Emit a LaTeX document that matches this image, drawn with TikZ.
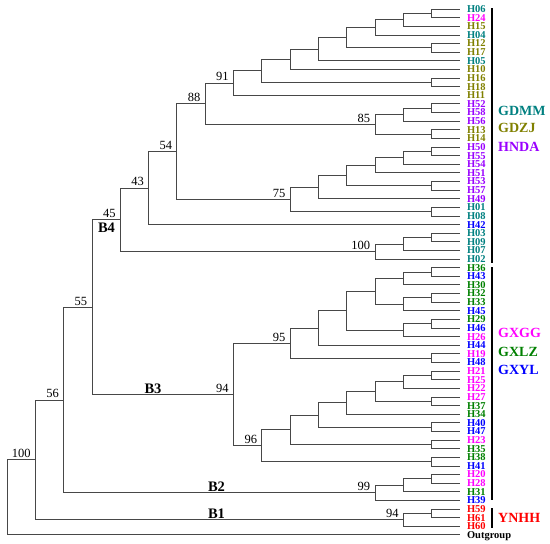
\documentclass[tikz,border=0pt]{standalone}
\usepackage{fontspec}
\setmainfont{Liberation Serif}
\definecolor{cteal}{RGB}{0,128,128}
\definecolor{colive}{RGB}{128,128,0}
\definecolor{cmag}{RGB}{255,0,255}
\definecolor{cviol}{RGB}{153,0,255}
\definecolor{cblue}{RGB}{0,0,255}
\definecolor{cgreen}{RGB}{0,128,0}
\definecolor{cred}{RGB}{255,0,0}
\definecolor{cblack}{RGB}{0,0,0}
\newcommand\kids[3]{\draw[br] (#1) |- (#2) (#1) |- (#3);}
\begin{document}
\begin{tikzpicture}[x=1pt,y=-1pt,
  br/.style={draw=black!72,line width=0.7pt},
  leaf/.style={inner sep=0pt,anchor=base west,font=\fontsize{10.5}{10.5}\selectfont\bfseries},
  bs/.style={inner sep=0pt,anchor=base east,xshift=-4.5pt,yshift=2pt,font=\fontsize{12.5}{12.5}\selectfont},
  bl/.style={inner sep=0pt,font=\fontsize{14.5}{14.5}\selectfont\bfseries},
  grp/.style={inner sep=0pt,anchor=base west,font=\fontsize{14}{14}\selectfont\bfseries},
  bar/.style={draw=black,line width=1.5pt}]
\useasboundingbox (0,0) rectangle (550,544);
% leaves
\foreach \n/\c [count=\i] in {H06/cteal,H24/cmag,H15/colive,H04/cteal,H12/colive,H17/colive,H05/cteal,H10/colive,H16/colive,H18/colive,H11/colive,H52/cviol,H58/cviol,H56/cviol,H13/colive,H14/colive,H50/cviol,H55/cviol,H54/cviol,H51/cviol,H53/cviol,H57/cviol,H49/cviol,H01/cteal,H08/cteal,H42/cblue,H03/cteal,H09/cteal,H07/cteal,H02/cteal,H36/cgreen,H43/cblue,H30/cgreen,H32/cgreen,H33/cgreen,H45/cblue,H29/cgreen,H46/cblue,H26/cmag,H44/cblue,H19/cmag,H48/cblue,H21/cmag,H25/cmag,H22/cmag,H27/cmag,H37/cgreen,H34/cgreen,H40/cblue,H47/cblue,H23/cmag,H35/cgreen,H38/cgreen,H41/cblue,H20/cmag,H28/cmag,H31/cgreen,H39/cblue,H59/cred,H61/cred,H60/cred,Outgroup/cblack}{
  \coordinate (L\i) at (459.8,{9+(\i-1)*8.62});
  \node[leaf,text=\c] (T\i) at ([xshift=7pt,yshift=-3.5pt]L\i) {\n};
}
% internal nodes
\coordinate (a1) at (431.5,13.31);
\coordinate (a2) at (403.2,19.775);
\coordinate (a3) at (374.9,27.32);
\coordinate (a4) at (431.5,47.79);
\coordinate (a5) at (346.6,37.55);
\coordinate (a6) at (318.3,49.14);
\coordinate (a7) at (290,59.24);
\coordinate (a8) at (431.5,82.27);
\coordinate (a9) at (261.7,70.75);
\coordinate (a10) at (233.4,82.98);
\coordinate (b1) at (431.5,108.13);
\coordinate (b2) at (403.2,114.60);
\coordinate (b3) at (431.5,133.99);
\coordinate (b4) at (374.9,124.29);
\coordinate (a11) at (205.1,103.63);
\coordinate (c1) at (431.5,151.23);
\coordinate (c2) at (403.2,157.70);
\coordinate (c3) at (374.9,165.24);
\coordinate (c4) at (431.5,185.71);
\coordinate (c5) at (346.6,175.47);
\coordinate (c6) at (318.3,187.06);
\coordinate (c7) at (431.5,211.57);
\coordinate (c8) at (290,199.31);
\coordinate (a12) at (176.8,151.47);
\coordinate (a13) at (148.5,187.99);
\coordinate (d1) at (431.5,237.43);
\coordinate (d2) at (403.2,243.90);
\coordinate (d3) at (374.9,251.44);
\coordinate (a14) at (120.2,219.71);
\coordinate (e1) at (431.5,271.91);
\coordinate (e2) at (403.2,278.38);
\coordinate (e3) at (431.5,297.77);
\coordinate (e4) at (403.2,304.23);
\coordinate (e5) at (374.9,291.30);
\coordinate (e6) at (431.5,323.63);
\coordinate (e7) at (403.2,330.10);
\coordinate (e8) at (346.6,310.70);
\coordinate (e9) at (318.3,327.94);
\coordinate (e10) at (431.5,358.11);
\coordinate (e11) at (290,343.02);
\coordinate (f1) at (431.5,375.35);
\coordinate (f2) at (403.2,381.81);
\coordinate (f3) at (431.5,401.21);
\coordinate (f4) at (374.9,391.51);
\coordinate (f5) at (346.6,402.83);
\coordinate (f6) at (431.5,427.07);
\coordinate (f7) at (318.3,414.95);
\coordinate (f8) at (431.5,444.31);
\coordinate (f9) at (290,429.63);
\coordinate (f10) at (431.5,461.55);
\coordinate (f11) at (261.7,445.59);
\coordinate (bb3) at (233.4,394.31);
\coordinate (r4) at (91.9,307.01);
\coordinate (g1) at (431.5,478.79);
\coordinate (g2) at (403.2,485.26);
\coordinate (g3) at (374.9,492.80);
\coordinate (r3) at (63.6,399.91);
\coordinate (h1) at (431.5,513.27);
\coordinate (h2) at (403.2,519.74);
\coordinate (r2) at (35.3,459.82);
\coordinate (r1) at (7,497.32);
% branches
\kids{a1}{L1}{L2}
\kids{a2}{a1}{L3}
\kids{a3}{a2}{L4}
\kids{a4}{L5}{L6}
\kids{a5}{a3}{a4}
\kids{a6}{a5}{L7}
\kids{a7}{a6}{L8}
\kids{a8}{L9}{L10}
\kids{a9}{a7}{a8}
\kids{a10}{a9}{L11}
\kids{b1}{L12}{L13}
\kids{b2}{b1}{L14}
\kids{b3}{L15}{L16}
\kids{b4}{b2}{b3}
\kids{a11}{a10}{b4}
\kids{c1}{L17}{L18}
\kids{c2}{c1}{L19}
\kids{c3}{c2}{L20}
\kids{c4}{L21}{L22}
\kids{c5}{c3}{c4}
\kids{c6}{c5}{L23}
\kids{c7}{L24}{L25}
\kids{c8}{c6}{c7}
\kids{a12}{a11}{c8}
\kids{a13}{a12}{L26}
\kids{d1}{L27}{L28}
\kids{d2}{d1}{L29}
\kids{d3}{d2}{L30}
\kids{a14}{a13}{d3}
\kids{e1}{L31}{L32}
\kids{e2}{e1}{L33}
\kids{e3}{L34}{L35}
\kids{e4}{e3}{L36}
\kids{e5}{e2}{e4}
\kids{e6}{L37}{L38}
\kids{e7}{e6}{L39}
\kids{e8}{e5}{e7}
\kids{e9}{e8}{L40}
\kids{e10}{L41}{L42}
\kids{e11}{e9}{e10}
\kids{f1}{L43}{L44}
\kids{f2}{f1}{L45}
\kids{f3}{L46}{L47}
\kids{f4}{f2}{f3}
\kids{f5}{f4}{L48}
\kids{f6}{L49}{L50}
\kids{f7}{f5}{f6}
\kids{f8}{L51}{L52}
\kids{f9}{f7}{f8}
\kids{f10}{L53}{L54}
\kids{f11}{f9}{f10}
\kids{bb3}{e11}{f11}
\kids{r4}{a14}{bb3}
\kids{g1}{L55}{L56}
\kids{g2}{g1}{L57}
\kids{g3}{g2}{L58}
\kids{r3}{r4}{g3}
\kids{h1}{L59}{L60}
\kids{h2}{h1}{L61}
\kids{r2}{r3}{h2}
\kids{r1}{r2}{L62}
% support values
\node[bs] (s45) at (a14) {45};
\node[bs] (s43) at (a13) {43};
\node[bs] (s54) at (a12) {54};
\node[bs] (s88) at (a11) {88};
\node[bs] (s91) at (a10) {91};
\node[bs] (s85) at (b4) {85};
\node[bs] (s75) at (c8) {75};
\node[bs] (s100a) at (d3) {100};
\node[bs] (s55) at (r4) {55};
\node[bs] (s56) at (r3) {56};
\node[bs] (s100b) at (r2) {100};
\node[bs] (s95) at (e11) {95};
\node[bs] (s94a) at (bb3) {94};
\node[bs] (s96) at (f11) {96};
\node[bs] (s99) at (g3) {99};
\node[bs] (s94b) at (h2) {94};
% clade labels
\node[bl,anchor=north] (B4) at (106.5,223) {B4};
\node[bl,anchor=base] (B3) at (153,393) {B3};
\node[bl,anchor=base] (B2) at (216.5,491) {B2};
\node[bl,anchor=base] (B1) at (216.5,518) {B1};
% bars
\coordinate (u1) at (492,8);
\coordinate (u2) at (492,263);
\coordinate (m1) at (492,267);
\coordinate (m2) at (492,500);
\coordinate (y1) at (492,508);
\coordinate (y2) at (492,528);
\draw[bar] (u1) -- (u2);
\draw[bar] (m1) -- (m2);
\draw[bar] (y1) -- (y2);
% group labels
\node[grp,text=cteal] (gGDMM) at (498,115.1) {GDMM};
\node[grp,text=colive] (gGDZJ) at (498,132.1) {GDZJ};
\node[grp,text=cviol] (gHNDA) at (498,151.1) {HNDA};
\node[grp,text=cmag] (gGXGG) at (498,337.6) {GXGG};
\node[grp,text=cgreen] (gGXLZ) at (498,356.6) {GXLZ};
\node[grp,text=cblue] (gGXYL) at (498,374.6) {GXYL};
\node[grp,text=cred] (gYNHH) at (498,522.6) {YNHH};
\end{tikzpicture}
\end{document}
